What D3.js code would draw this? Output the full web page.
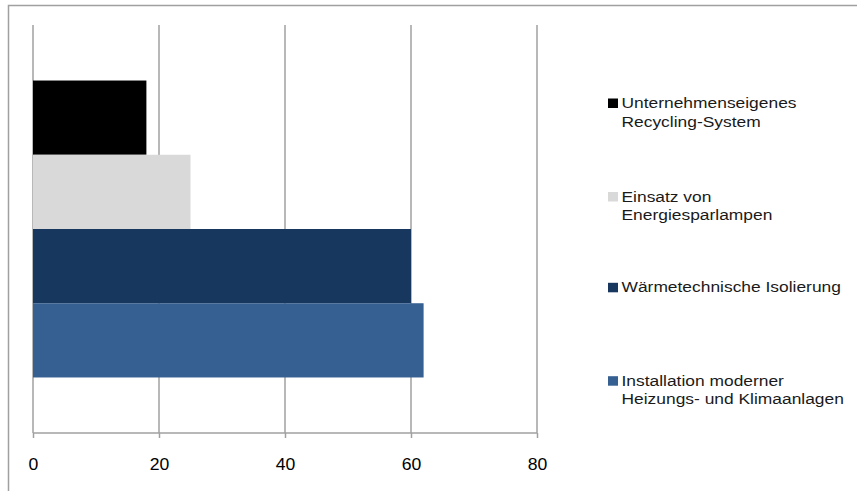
<!DOCTYPE html>
<html>
<head>
<meta charset="utf-8">
<script src="https://cdn.jsdelivr.net/npm/d3@7"></script>
<style>
  html, body { margin: 0; padding: 0; background: #fff; }
  svg { display: block; font-family: "Liberation Sans", Arial, sans-serif; }
</style>
</head>
<body>
<svg id="chart" width="857" height="491"></svg>
<script>
// Series shown as horizontal bars (top to bottom) and in the legend
const seriesNames = [
  "Unternehmenseigenes Recycling-System",
  "Einsatz von Energiesparlampen",
  "Wärmetechnische Isolierung",
  "Installation moderner Heizungs- und Klimaanlagen"
];
const seriesValues = [18, 25, 60, 62];
const seriesColors = ["#000000", "#d9d9d9", "#17375e", "#376092"];
const legendLabels = [
  ["Unternehmenseigenes", "Recycling-System"],
  ["Einsatz von", "Energiesparlampen"],
  ["Wärmetechnische Isolierung"],
  ["Installation moderner", "Heizungs- und Klimaanlagen"]
];
const xTicks = [0, 20, 40, 60, 80];
const categories = [""];

// Layout
const plot = { left: 33, right: 537, top: 25, bottom: 433 };
const legendX = 608;
const legendBaseline = [108, 201.5, 292.3, 385.7];   // baseline of first text line per entry
const lineHeight = 18.7;
const textStretch = 1.13;   // wide rendering of the legend face
const gridColor = "#a0a0a0";

const svg = d3.select("#chart");

// Outer chart frame (continues past the right and bottom edges)
svg.append("rect")
  .attr("x", 8.5).attr("y", 5.5)
  .attr("width", 900).attr("height", 520)
  .attr("fill", "none").attr("stroke", gridColor).attr("stroke-width", 1.5);

const x = d3.scaleLinear().domain([0, 80]).range([plot.left, plot.right]);

const yCat = d3.scaleBand().domain(categories)
  .range([plot.top, plot.bottom]).paddingInner(0).paddingOuter(0.187);
const ySeries = d3.scaleBand().domain(seriesNames)
  .range([0, yCat.bandwidth()]).padding(0);

// Vertical gridlines
svg.append("g")
  .selectAll("line")
  .data(xTicks)
  .join("line")
  .attr("x1", d => x(d)).attr("x2", d => x(d))
  .attr("y1", plot.top).attr("y2", plot.bottom)
  .attr("stroke", gridColor).attr("stroke-width", 1.5);

// Bars
const barData = seriesNames.map((name, i) => ({ name, value: seriesValues[i], color: seriesColors[i] }));
svg.append("g")
  .attr("transform", `translate(0,${yCat("")})`)
  .selectAll("rect")
  .data(barData)
  .join("rect")
  .attr("x", x(0))
  .attr("y", d => ySeries(d.name))
  .attr("width", d => x(d.value) - x(0))
  .attr("height", ySeries.bandwidth())
  .attr("fill", d => d.color);

// Bottom axis
const xAxis = d3.axisBottom(x).tickValues(xTicks).tickSize(5).tickPadding(20).tickFormat(d3.format("d"));
const axisG = svg.append("g")
  .attr("transform", `translate(0,${plot.bottom})`)
  .call(xAxis);
axisG.select(".domain").attr("stroke", gridColor).attr("stroke-width", 1.5)
  .attr("d", `M${plot.left},0H${plot.right}`);
axisG.selectAll(".tick line").attr("stroke", gridColor).attr("stroke-width", 1.5);
axisG.selectAll(".tick text")
  .attr("fill", "#000")
  .attr("font-size", "16.3px")
  .attr("font-family", "'Liberation Sans', Arial, sans-serif")
  .attr("transform", "scale(1.08,1)");

// Legend
const legend = svg.append("g");
barData.forEach((d, i) => {
  const base = legendBaseline[i];
  const g = legend.append("g");
  g.append("rect")
    .attr("x", legendX).attr("y", base - 9.5)
    .attr("width", 10).attr("height", 9.5)
    .attr("fill", d.color);
  g.append("text")
    .attr("transform", `translate(${legendX + 13.5},${base}) scale(${textStretch},1)`)
    .attr("font-size", "15.4px")
    .attr("fill", "#1a1a1a")
    .selectAll("tspan")
    .data(legendLabels[i])
    .join("tspan")
    .attr("x", 0)
    .attr("dy", (t, j) => j === 0 ? 0 : lineHeight)
    .text(t => t);
});
</script>
</body>
</html>
